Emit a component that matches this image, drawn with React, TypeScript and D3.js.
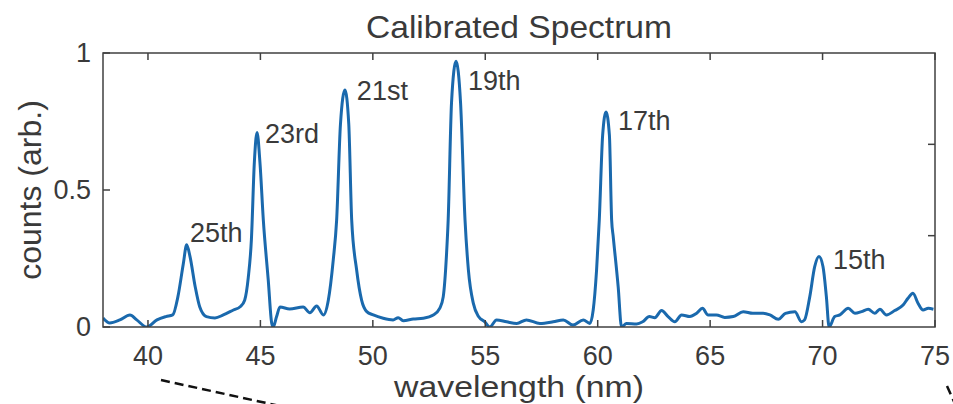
import React, { useEffect, useRef } from 'react';
import * as d3 from 'd3';

// spectrum (nm, arb. counts)
const wavelength = [
   38.0, 38.3, 38.75, 39.2, 39.5, 39.95, 40.4, 40.8, 41.1, 41.33, 41.57, 41.72, 41.87, 42.1, 42.3, 42.6,
   42.98, 43.35, 43.8, 44.1, 44.3, 44.46, 44.6, 44.73, 44.85, 44.98, 45.13, 45.35, 45.5, 45.57, 45.72,
   45.87, 46.3, 46.9, 47.2, 47.5, 47.8, 48.02, 48.24, 48.39, 48.56, 48.76, 48.93, 49.06, 49.28, 49.5,
   49.73, 50.02, 50.46, 50.9, 51.13, 51.35, 51.8, 52.24, 52.69, 52.98, 53.13, 53.28, 53.35, 53.5, 53.7,
   53.9, 54.1, 54.25, 54.47, 54.7, 54.98, 55.2, 55.5, 55.95, 56.4, 56.83, 57.43, 58.02, 58.47, 58.9,
   59.36, 59.65, 59.8, 59.95, 60.07, 60.22, 60.37, 60.52, 60.62, 60.69, 60.91, 61.06, 61.28, 61.73,
   62.0, 62.3, 62.54, 62.84, 63.13, 63.43, 63.73, 64.1, 64.4, 64.66, 64.91, 65.28, 65.65, 66.03, 66.47,
   66.9, 67.36, 67.66, 68.03, 68.35, 68.77, 69.06, 69.2, 69.43, 69.65, 69.84, 70.02, 70.17, 70.29,
   70.54, 70.77, 71.14, 71.44, 71.73, 72.03, 72.32, 72.55, 72.84, 73.21, 73.58, 73.8, 74.02, 74.25,
   74.47, 74.7, 74.93
];
const counts = [
   0.033, 0.015, 0.026, 0.044, 0.026, 0.0, 0.026, 0.038, 0.044, 0.11, 0.23, 0.30, 0.257, 0.147, 0.074, 0.038,
   0.033, 0.044, 0.062, 0.074, 0.098, 0.18, 0.32, 0.6, 0.71, 0.6, 0.39, 0.17, 0.015, 0.0, 0.038,
   0.073, 0.066, 0.073, 0.052, 0.077, 0.044, 0.098, 0.245, 0.39, 0.74, 0.865, 0.74, 0.39, 0.208, 0.098,
   0.056, 0.044, 0.032, 0.026, 0.034, 0.023, 0.029, 0.032, 0.044, 0.069, 0.11, 0.27, 0.39, 0.82, 0.97,
   0.82, 0.39, 0.208, 0.086, 0.038, 0.019, 0.0, 0.026, 0.019, 0.013, 0.026, 0.013, 0.019, 0.026, 0.007,
   0.026, 0.013, 0.062, 0.208, 0.39, 0.7, 0.785, 0.7, 0.39, 0.33, 0.147, 0.0, 0.013, 0.011,
   0.019, 0.038, 0.034, 0.06, 0.038, 0.019, 0.044, 0.038, 0.05, 0.068, 0.044, 0.044, 0.035, 0.038, 0.056,
   0.05, 0.05, 0.044, 0.028, 0.05, 0.056, 0.019, 0.026, 0.11, 0.22, 0.257, 0.22, 0.11, 0.0,
   0.038, 0.044, 0.068, 0.05, 0.056, 0.065, 0.05, 0.065, 0.044, 0.06, 0.08, 0.105, 0.123, 0.086,
   0.062, 0.068, 0.065
];

// harmonic order labels (text placed in data coords, baseline)
const orderLabels = ['25th', '23rd', '21st', '19th', '17th', '15th'];
const labelX = [41.87, 45.2, 49.29, 54.23, 60.9, 70.46];
const labelY = [0.31, 0.672, 0.828, 0.865, 0.719, 0.212];

const xTicks = [40, 45, 50, 55, 60, 65, 70, 75];
const yTicks = [0, 0.5, 1];

const FONT = '"Liberation Sans", Arial, Helvetica, sans-serif';
const TEXT = '#3a3a3a';

const SpectrumChart = () => {
   const svgRef = useRef<SVGSVGElement>(null);

   useEffect(() => {
      const svg = d3.select(svgRef.current);
      svg.selectAll('*').remove();

      const width = 953;
      const height = 404;
      const left = 103, right = 935, top = 53, bottom = 327;
      const tick = 7;

      const x = d3.scaleLinear().domain([38, 75]).range([left, right]);
      const y = d3.scaleLinear().domain([0, 1]).range([bottom, top]);
      // the right edge carries its own unlabeled ticks at thirds
      const yRight = d3.scaleLinear().domain([0, 3]).range([bottom, top]);

      svg.attr('width', width).attr('height', height);
      svg.append('rect').attr('width', width).attr('height', height).attr('fill', 'white');

      svg.append('defs').append('clipPath').attr('id', 'plot-clip')
         .append('rect')
         .attr('x', left).attr('y', top)
         .attr('width', right - left).attr('height', bottom - top);

      // spectrum
      const pts = wavelength.map((w, i) => [w, counts[i]] as [number, number]);
      const line = d3.line<[number, number]>()
         .x(d => x(d[0]))
         .y(d => y(d[1]))
         .curve(d3.curveMonotoneX);

      svg.append('path')
         .datum(pts)
         .attr('clip-path', 'url(#plot-clip)')
         .attr('d', line)
         .attr('fill', 'none')
         .attr('stroke', '#1a69ad')
         .attr('stroke-width', 3)
         .attr('stroke-linejoin', 'round');

      // axes box + inward ticks
      const axisG = svg.append('g')
         .attr('stroke', '#404040')
         .attr('stroke-width', 1.5)
         .attr('fill', 'none');

      axisG.append('rect')
         .attr('x', left).attr('y', top)
         .attr('width', right - left).attr('height', bottom - top);

      xTicks.forEach(t => {
         axisG.append('line')
            .attr('x1', x(t)).attr('x2', x(t))
            .attr('y1', bottom).attr('y2', bottom - tick);
         axisG.append('line')
            .attr('x1', x(t)).attr('x2', x(t))
            .attr('y1', top).attr('y2', top + tick);
      });
      yTicks.forEach(t => {
         axisG.append('line')
            .attr('x1', left).attr('x2', left + tick)
            .attr('y1', y(t)).attr('y2', y(t));
      });
      [1, 2].forEach(t => {
         axisG.append('line')
            .attr('x1', right).attr('x2', right - tick)
            .attr('y1', yRight(t)).attr('y2', yRight(t));
      });

      // tick labels
      svg.append('g')
         .selectAll('text')
         .data(xTicks)
         .enter()
         .append('text')
         .attr('x', d => x(d))
         .attr('y', bottom + 38)
         .attr('text-anchor', 'middle')
         .attr('font-family', FONT)
         .attr('font-size', 27)
         .attr('fill', TEXT)
         .text(d => d);

      svg.append('g')
         .selectAll('text')
         .data(yTicks)
         .enter()
         .append('text')
         .attr('x', left - 12)
         .attr('y', d => y(d))
         .attr('dy', '0.35em')
         .attr('text-anchor', 'end')
         .attr('font-family', FONT)
         .attr('font-size', 27)
         .attr('fill', TEXT)
         .text(d => d);

      // titles (source figure text is a little wide, so stretch to fit)
      svg.append('text')
         .attr('x', (left + right) / 2)
         .attr('y', 38)
         .attr('text-anchor', 'middle')
         .attr('font-family', FONT)
         .attr('font-size', 32)
         .attr('fill', TEXT)
         .attr('textLength', 306)
         .attr('lengthAdjust', 'spacingAndGlyphs')
         .text('Calibrated Spectrum');

      svg.append('text')
         .attr('x', (left + right) / 2)
         .attr('y', 397)
         .attr('text-anchor', 'middle')
         .attr('font-family', FONT)
         .attr('font-size', 29)
         .attr('fill', TEXT)
         .attr('textLength', 250)
         .attr('lengthAdjust', 'spacingAndGlyphs')
         .text('wavelength (nm)');

      svg.append('text')
         .attr('transform', `translate(41, ${(top + bottom) / 2}) rotate(-90)`)
         .attr('text-anchor', 'middle')
         .attr('font-family', FONT)
         .attr('font-size', 32)
         .attr('fill', TEXT)
         .text('counts (arb.)');

      // harmonic order annotations
      svg.append('g')
         .selectAll('text')
         .data(orderLabels)
         .enter()
         .append('text')
         .attr('x', (d, i) => x(labelX[i]))
         .attr('y', (d, i) => y(labelY[i]))
         .attr('font-family', FONT)
         .attr('font-size', 27)
         .attr('fill', TEXT)
         .text(d => d);

      // zoom-lines leading out of the figure (from the source layout)
      svg.append('line')
         .attr('x1', 161).attr('y1', 380)
         .attr('x2', 280).attr('y2', 406)
         .attr('stroke', '#111')
         .attr('stroke-width', 2.5)
         .attr('stroke-dasharray', '9 5');
      svg.append('line')
         .attr('x1', 947).attr('y1', 386)
         .attr('x2', 956).attr('y2', 406)
         .attr('stroke', '#111')
         .attr('stroke-width', 2.5)
         .attr('stroke-dasharray', '9 5');
   }, []);

   return (
      <svg
         ref={svgRef}
         style={{ position: 'absolute', left: 0, top: 0, display: 'block' }}
      ></svg>
   );
};

export default function App() {
   return <SpectrumChart />;
}
